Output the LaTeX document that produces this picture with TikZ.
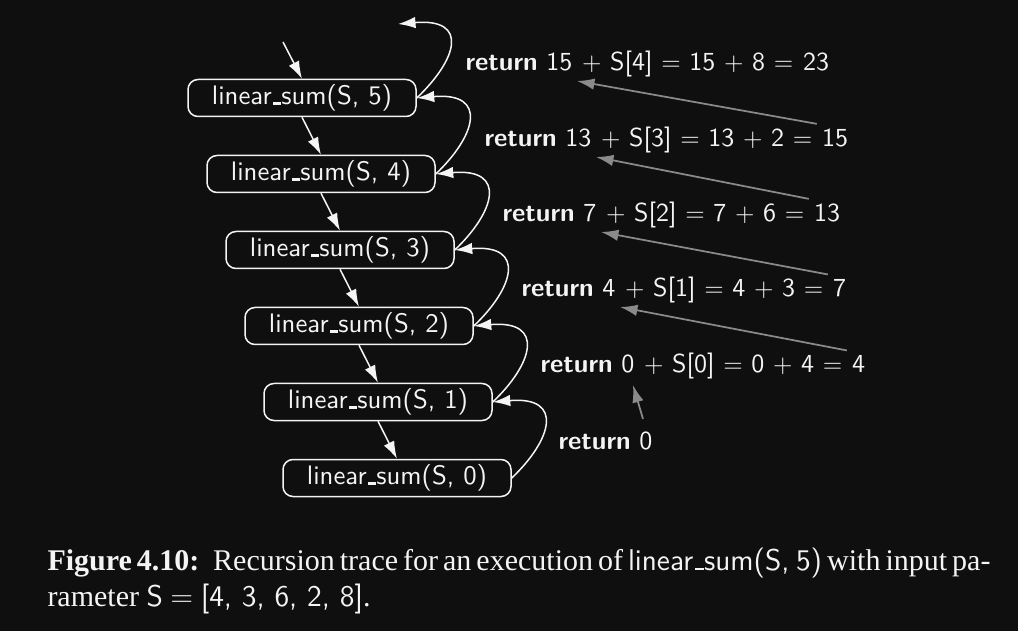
\documentclass[tikz,border=0pt]{standalone}
\usepackage{fontspec}
\setmainfont{Liberation Serif}
\usepackage{tikz}
\usetikzlibrary{arrows.meta}
\definecolor{traceBg}{HTML}{0F0F0F}
\definecolor{traceInk}{HTML}{F4F4F4}
\definecolor{traceGray}{HTML}{8A8A8A}
% low rule as in the OT1 underscore
\newcommand{\uscore}{\leavevmode\kern.06em\vbox{\hrule height .9pt width .3em}}
\tikzset{
  callbox/.style={draw=traceInk,line width=.6pt,rounded corners=4pt,minimum width=91.2pt,
    minimum height=14.8pt,inner sep=0pt,text=traceInk,font=\sffamily\fontsize{10.7}{13}\selectfont},
  callflow/.style={->,line width=.6pt,traceInk},
  retflow/.style={->,line width=.6pt,traceInk},
  valflow/.style={->,line width=.7pt,traceGray},
  rettext/.style={inner sep=0pt,anchor=base west,text=traceInk,font=\sffamily\fontsize{10.4}{13}\selectfont},
  captext/.style={inner sep=0pt,anchor=base west,text=traceInk,font=\fontsize{12}{14.5}\selectfont}
}

\begin{document}
\begin{tikzpicture}[x=.4pt,y=-.4pt,>={Latex[length=7pt,width=4.6pt]}]
  \fill[traceBg] (0,0) rectangle (1018,631);
  \useasboundingbox (0,0) rectangle (1018,631);

  % recursion calls, one step down and right each time
  \node[callbox] (b5) at (302,98)  {linear\uscore sum(S, 5)};
  \node[callbox] (b4) at (321,174) {linear\uscore sum(S, 4)};
  \node[callbox] (b3) at (340,250) {linear\uscore sum(S, 3)};
  \node[callbox] (b2) at (359,326) {linear\uscore sum(S, 2)};
  \node[callbox] (b1) at (378,402) {linear\uscore sum(S, 1)};
  \node[callbox] (b0) at (397,478) {linear\uscore sum(S, 0)};
  \coordinate (entry) at (283,42);
  \coordinate (exit) at (398,24);

  \draw[callflow] (entry) -- (b5.north);
  \draw[callflow] (b5.south) -- (b4.north);
  \draw[callflow] (b4.south) -- (b3.north);
  \draw[callflow] (b3.south) -- (b2.north);
  \draw[callflow] (b2.south) -- (b1.north);
  \draw[callflow] (b1.south) -- (b0.north);

  \draw[retflow] (b0.east) .. controls +(40,-38) and +(72,-6) .. (b1.east);
  \draw[retflow] (b1.east) .. controls +(40,-38) and +(72,-6) .. (b2.east);
  \draw[retflow] (b2.east) .. controls +(40,-38) and +(72,-6) .. (b3.east);
  \draw[retflow] (b3.east) .. controls +(40,-38) and +(72,-6) .. (b4.east);
  \draw[retflow] (b4.east) .. controls +(40,-38) and +(72,-6) .. (b5.east);
  \draw[retflow] (b5.east) .. controls +(40,-38) and +(72,-6) .. (exit);

  % returned values: first number, middle part, result
  \node[rettext] (base) at (558,449) {\textbf{return} 0};
  \node[rettext] (ret0) at (540,373) {\textbf{return} 0};
  \node[rettext] (mid0) at (ret0.base east) {\ $+$ S[0] $=$ 0 $+$ 4 $=$};
  \node[rettext] (res0) at (mid0.base east) {\ 4};
  \node[rettext] (ret1) at (521,297) {\textbf{return} 4};
  \node[rettext] (mid1) at (ret1.base east) {\ $+$ S[1] $=$ 4 $+$ 3 $=$};
  \node[rettext] (res1) at (mid1.base east) {\ 7};
  \node[rettext] (ret2) at (502,222) {\textbf{return} 7};
  \node[rettext] (mid2) at (ret2.base east) {\ $+$ S[2] $=$ 7 $+$ 6 $=$};
  \node[rettext] (res2) at (mid2.base east) {\ 13};
  \node[rettext] (ret3) at (484,147) {\textbf{return} 13};
  \node[rettext] (mid3) at (ret3.base east) {\ $+$ S[3] $=$ 13 $+$ 2 $=$};
  \node[rettext] (res3) at (mid3.base east) {\ 15};
  \node[rettext] (ret4) at (465,71) {\textbf{return} 15};
  \node[rettext] (mid4) at (ret4.base east) {\ $+$ S[4] $=$ 15 $+$ 8 $=$};
  \node[rettext] (res4) at (mid4.base east) {\ 23};

  \draw[valflow] ([shift={(-10,-12)}]base.north east) -- ([shift={(-2,12)}]ret0.base east);
  \draw[valflow] ([shift={(4,-5)}]res0.north west) -- ([shift={(4,10)}]ret1.base east);
  \draw[valflow] ([shift={(4,-5)}]res1.north west) -- ([shift={(4,10)}]ret2.base east);
  \draw[valflow] ([shift={(4,-5)}]res2.north west) -- ([shift={(4,10)}]ret3.base east);
  \draw[valflow] ([shift={(4,-5)}]res3.north west) -- ([shift={(4,10)}]ret4.base east);

  \node[captext] (cap1) at (47,570)
       {\makebox[377.2pt][s]{\textbf{Figure 4.10:}\hspace{2pt} Recursion trace for an execution of
        \textsf{linear\uscore sum(S, 5)} with input pa-}};
  \node[captext] (cap2) at (47,606)
       {rameter \textsf{S} $=$ \textsf{[4, 3, 6, 2, 8]}.};
\end{tikzpicture}
\end{document}
